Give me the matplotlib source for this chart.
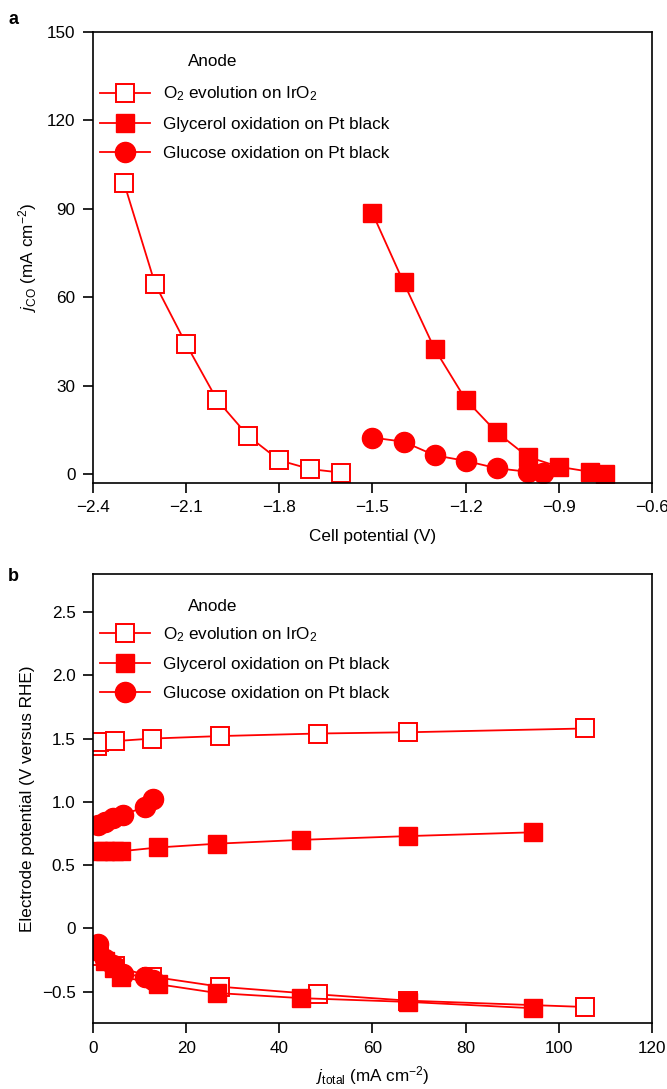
import matplotlib
matplotlib.use('Agg')
import matplotlib.pyplot as plt
from matplotlib.lines import Line2D

plt.rcParams['font.family'] = ['Liberation Sans', 'DejaVu Sans']
plt.rcParams['mathtext.fontset'] = 'custom'
plt.rcParams['mathtext.rm'] = 'Liberation Sans'
plt.rcParams['mathtext.it'] = 'Liberation Sans:italic'
FS = 12.3
plt.rcParams['font.size'] = FS

RED = '#ff0000'

# panel a: CO partial current vs cell potential
cell_o2 = [-2.3, -2.2, -2.1, -2.0, -1.9, -1.8, -1.7, -1.6]
jco_o2 = [98.8, 64.5, 44.1, 25.1, 12.9, 4.7, 1.7, 0.5]
cell_gly = [-1.5, -1.4, -1.3, -1.2, -1.1, -1.0, -0.9, -0.8, -0.75]
jco_gly = [88.5, 65.1, 42.5, 25.3, 14.2, 5.9, 2.5, 0.8, 0.2]
cell_glu = [-1.5, -1.4, -1.3, -1.2, -1.1, -1.0, -0.95]
jco_glu = [12.4, 11.0, 6.4, 4.5, 2.0, 0.8, 0.3]

# panel b: electrode potentials (anode, upper; cathode, lower) vs total current
jt_o2 = [0.8, 1.3, 4.7, 12.6, 27.3, 48.2, 67.7, 105.7]
e_an_o2 = [1.44, 1.47, 1.48, 1.50, 1.52, 1.54, 1.55, 1.58]
e_ca_o2 = [-0.16, -0.22, -0.30, -0.38, -0.46, -0.52, -0.57, -0.62]
jt_gly = [1.0, 2.5, 4.5, 6.0, 14.0, 26.7, 44.6, 67.7, 94.5]
e_an_gly = [0.61, 0.61, 0.61, 0.61, 0.64, 0.67, 0.70, 0.73, 0.76]
e_ca_gly = [-0.18, -0.26, -0.31, -0.38, -0.44, -0.51, -0.55, -0.58, -0.63]
jt_glu = [1.1, 2.6, 4.4, 6.5, 11.2, 12.8]
e_an_glu = [0.82, 0.84, 0.87, 0.90, 0.96, 1.02]
e_ca_glu = [-0.12, -0.24, -0.29, -0.36, -0.38, -0.41]

labels = ['O$_2$ evolution on IrO$_2$',
          'Glycerol oxidation on Pt black',
          'Glucose oxidation on Pt black']

sq_open = dict(color=RED, marker='s', ms=13, mfc='white', mec=RED, mew=1.4, lw=1.3)
sq_fill = dict(color=RED, marker='s', ms=13, mfc=RED, mec=RED, lw=1.3)
circ_fill = dict(color=RED, marker='o', ms=14.5, mfc=RED, mec=RED, lw=1.3)


def style_axes(ax):
    for s in ax.spines.values():
        s.set_linewidth(1.2)
    ax.tick_params(direction='out', length=7, width=1.2, pad=5.5, labelsize=FS,
                   top=False, right=False)


def add_legend(ax, anode_y, leg_y):
    handles = [Line2D([], [], **sq_open), Line2D([], [], **sq_fill),
               Line2D([], [], **circ_fill)]
    ax.legend(handles, labels, loc='upper left', bbox_to_anchor=(0.012, leg_y),
              frameon=False, fontsize=FS, handlelength=2.95, handletextpad=0.75,
              labelspacing=0.8, borderaxespad=0, borderpad=0)
    ax.text(0.170, anode_y, 'Anode', transform=ax.transAxes, fontsize=FS,
            ha='left', va='center')


fig = plt.figure(figsize=(6.67, 10.89), dpi=100)

ax1 = fig.add_axes([0.1394, 0.5565, 0.8381, 0.4141])
ax1.plot(cell_o2, jco_o2, **sq_open)
ax1.plot(cell_gly, jco_gly, **sq_fill)
ax1.plot(cell_glu, jco_glu, **circ_fill)
ax1.set_xlim(-2.4, -0.6)
ax1.set_ylim(-3, 150)
xt = [-2.4, -2.1, -1.8, -1.5, -1.2, -0.9, -0.6]
ax1.set_xticks(xt)
ax1.set_xticklabels(['\u2212%.1f' % abs(v) for v in xt])
ax1.set_yticks([0, 30, 60, 90, 120, 150])
ax1.set_xlabel('Cell potential (V)', labelpad=10)
ax1.set_ylabel('$j_{\\rm CO}$ (mA cm$^{\u22122}$)', labelpad=6)
style_axes(ax1)
add_legend(ax1, 0.934, 0.8835)

ax2 = fig.add_axes([0.1394, 0.0602, 0.8381, 0.4127])
ax2.plot(jt_o2, e_an_o2, **sq_open)
ax2.plot(jt_o2, e_ca_o2, **sq_open)
ax2.plot(jt_gly, e_an_gly, **sq_fill)
ax2.plot(jt_gly, e_ca_gly, **sq_fill)
ax2.plot(jt_glu, e_an_glu, **circ_fill)
ax2.plot(jt_glu, e_ca_glu, **circ_fill)
ax2.set_xlim(0, 120)
ax2.set_ylim(-0.75, 2.8)
ax2.set_xticks([0, 20, 40, 60, 80, 100, 120])
yt = [-0.5, 0, 0.5, 1.0, 1.5, 2.0, 2.5]
ax2.set_yticks(yt)
ax2.set_yticklabels(['\u22120.5', '0', '0.5', '1.0', '1.5', '2.0', '2.5'])
ax2.set_xlabel('$j_{\\rm total}$ (mA cm$^{\u22122}$)', labelpad=6)
ax2.set_ylabel('Electrode potential (V versus RHE)', labelpad=5)
style_axes(ax2)
add_legend(ax2, 0.9275, 0.8865)

fig.text(0.012, 0.990, 'a', fontsize=13, fontweight='bold', va='top')
fig.text(0.012, 0.478, 'b', fontsize=13, fontweight='bold', va='top')

fig.savefig('out.png', dpi=100)
